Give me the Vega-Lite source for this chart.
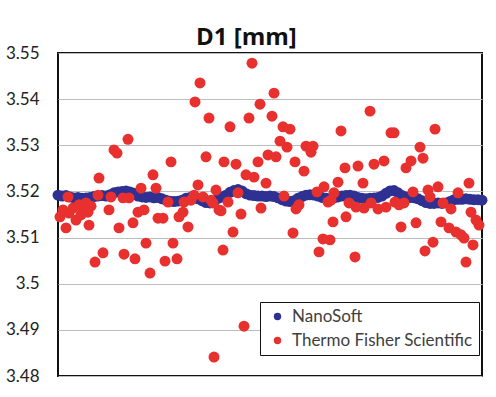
{
"$schema": "https://vega.github.io/schema/vega-lite/v6.json",
"width": 424,
"height": 323,
"padding": {"left": 5, "top": 26, "right": 13, "bottom": 16},
"background": "white",
"title": {"text": "D1 [mm]", "font": "Open Sans", "fontSize": 24, "fontWeight": "bold", "color": "#111111", "anchor": "middle", "frame": "bounds", "offset": -6},
"data": {"values": [
{"s":"NanoSoft","t":0,"v":3.5192},{"s":"NanoSoft","t":4,"v":3.519},{"s":"NanoSoft","t":8,"v":3.5191},{"s":"NanoSoft","t":12,"v":3.5188},{"s":"NanoSoft","t":16,"v":3.5186},{"s":"NanoSoft","t":20,"v":3.5187},{"s":"NanoSoft","t":24,"v":3.5185},{"s":"NanoSoft","t":28,"v":3.5186},{"s":"NanoSoft","t":32,"v":3.5187},{"s":"NanoSoft","t":36,"v":3.5189},{"s":"NanoSoft","t":40,"v":3.519},{"s":"NanoSoft","t":44,"v":3.5191},{"s":"NanoSoft","t":48,"v":3.519},{"s":"NanoSoft","t":52,"v":3.5193},{"s":"NanoSoft","t":56,"v":3.5197},{"s":"NanoSoft","t":60,"v":3.5199},{"s":"NanoSoft","t":64,"v":3.52},{"s":"NanoSoft","t":68,"v":3.5201},{"s":"NanoSoft","t":72,"v":3.5199},{"s":"NanoSoft","t":76,"v":3.5196},{"s":"NanoSoft","t":80,"v":3.519},{"s":"NanoSoft","t":84,"v":3.5188},{"s":"NanoSoft","t":88,"v":3.5187},{"s":"NanoSoft","t":92,"v":3.5188},{"s":"NanoSoft","t":96,"v":3.5186},{"s":"NanoSoft","t":100,"v":3.5187},{"s":"NanoSoft","t":104,"v":3.5184},{"s":"NanoSoft","t":108,"v":3.5181},{"s":"NanoSoft","t":112,"v":3.5179},{"s":"NanoSoft","t":116,"v":3.5178},{"s":"NanoSoft","t":120,"v":3.5179},{"s":"NanoSoft","t":124,"v":3.5181},{"s":"NanoSoft","t":128,"v":3.5185},{"s":"NanoSoft","t":132,"v":3.5187},{"s":"NanoSoft","t":136,"v":3.5186},{"s":"NanoSoft","t":140,"v":3.5184},{"s":"NanoSoft","t":144,"v":3.518},{"s":"NanoSoft","t":148,"v":3.5176},{"s":"NanoSoft","t":152,"v":3.5175},{"s":"NanoSoft","t":156,"v":3.5178},{"s":"NanoSoft","t":160,"v":3.5185},{"s":"NanoSoft","t":164,"v":3.5188},{"s":"NanoSoft","t":168,"v":3.5192},{"s":"NanoSoft","t":172,"v":3.5198},{"s":"NanoSoft","t":176,"v":3.5202},{"s":"NanoSoft","t":180,"v":3.5204},{"s":"NanoSoft","t":184,"v":3.5201},{"s":"NanoSoft","t":188,"v":3.5195},{"s":"NanoSoft","t":192,"v":3.5192},{"s":"NanoSoft","t":196,"v":3.5191},{"s":"NanoSoft","t":200,"v":3.519},{"s":"NanoSoft","t":204,"v":3.519},{"s":"NanoSoft","t":208,"v":3.5189},{"s":"NanoSoft","t":212,"v":3.519},{"s":"NanoSoft","t":216,"v":3.5189},{"s":"NanoSoft","t":220,"v":3.5186},{"s":"NanoSoft","t":224,"v":3.5182},{"s":"NanoSoft","t":228,"v":3.5179},{"s":"NanoSoft","t":232,"v":3.5178},{"s":"NanoSoft","t":236,"v":3.518},{"s":"NanoSoft","t":240,"v":3.5185},{"s":"NanoSoft","t":244,"v":3.5189},{"s":"NanoSoft","t":248,"v":3.5192},{"s":"NanoSoft","t":252,"v":3.5193},{"s":"NanoSoft","t":256,"v":3.5192},{"s":"NanoSoft","t":260,"v":3.519},{"s":"NanoSoft","t":264,"v":3.5187},{"s":"NanoSoft","t":268,"v":3.5185},{"s":"NanoSoft","t":272,"v":3.5184},{"s":"NanoSoft","t":276,"v":3.5186},{"s":"NanoSoft","t":280,"v":3.5188},{"s":"NanoSoft","t":284,"v":3.519},{"s":"NanoSoft","t":288,"v":3.5191},{"s":"NanoSoft","t":292,"v":3.5192},{"s":"NanoSoft","t":296,"v":3.519},{"s":"NanoSoft","t":300,"v":3.5187},{"s":"NanoSoft","t":304,"v":3.5185},{"s":"NanoSoft","t":308,"v":3.5184},{"s":"NanoSoft","t":312,"v":3.5185},{"s":"NanoSoft","t":316,"v":3.5186},{"s":"NanoSoft","t":320,"v":3.5187},{"s":"NanoSoft","t":324,"v":3.519},{"s":"NanoSoft","t":328,"v":3.5196},{"s":"NanoSoft","t":332,"v":3.5201},{"s":"NanoSoft","t":336,"v":3.5202},{"s":"NanoSoft","t":340,"v":3.5197},{"s":"NanoSoft","t":344,"v":3.5191},{"s":"NanoSoft","t":348,"v":3.5188},{"s":"NanoSoft","t":352,"v":3.5187},{"s":"NanoSoft","t":356,"v":3.5186},{"s":"NanoSoft","t":360,"v":3.5184},{"s":"NanoSoft","t":364,"v":3.518},{"s":"NanoSoft","t":368,"v":3.5176},{"s":"NanoSoft","t":372,"v":3.5174},{"s":"NanoSoft","t":376,"v":3.5174},{"s":"NanoSoft","t":380,"v":3.5175},{"s":"NanoSoft","t":384,"v":3.5174},{"s":"NanoSoft","t":388,"v":3.5175},{"s":"NanoSoft","t":392,"v":3.5178},{"s":"NanoSoft","t":396,"v":3.5182},{"s":"NanoSoft","t":400,"v":3.5183},{"s":"NanoSoft","t":404,"v":3.5183},{"s":"NanoSoft","t":408,"v":3.5184},{"s":"NanoSoft","t":412,"v":3.5183},{"s":"NanoSoft","t":416,"v":3.5182},{"s":"NanoSoft","t":420,"v":3.5182},{"s":"NanoSoft","t":424,"v":3.5181},
{"s":"Thermo Fisher Scientific","t":2,"v":3.5145},{"s":"Thermo Fisher Scientific","t":5,"v":3.516},{"s":"Thermo Fisher Scientific","t":8,"v":3.5121},{"s":"Thermo Fisher Scientific","t":10,"v":3.5188},{"s":"Thermo Fisher Scientific","t":11,"v":3.5153},{"s":"Thermo Fisher Scientific","t":15,"v":3.5164},{"s":"Thermo Fisher Scientific","t":18,"v":3.5138},{"s":"Thermo Fisher Scientific","t":21,"v":3.5171},{"s":"Thermo Fisher Scientific","t":23,"v":3.5149},{"s":"Thermo Fisher Scientific","t":25,"v":3.516},{"s":"Thermo Fisher Scientific","t":28,"v":3.5175},{"s":"Thermo Fisher Scientific","t":30,"v":3.5155},{"s":"Thermo Fisher Scientific","t":31,"v":3.5127},{"s":"Thermo Fisher Scientific","t":33,"v":3.5168},{"s":"Thermo Fisher Scientific","t":37,"v":3.5047},{"s":"Thermo Fisher Scientific","t":40,"v":3.5192},{"s":"Thermo Fisher Scientific","t":41,"v":3.5229},{"s":"Thermo Fisher Scientific","t":45,"v":3.5067},{"s":"Thermo Fisher Scientific","t":51,"v":3.516},{"s":"Thermo Fisher Scientific","t":53,"v":3.5188},{"s":"Thermo Fisher Scientific","t":56,"v":3.529},{"s":"Thermo Fisher Scientific","t":59,"v":3.5283},{"s":"Thermo Fisher Scientific","t":61,"v":3.5121},{"s":"Thermo Fisher Scientific","t":65,"v":3.5186},{"s":"Thermo Fisher Scientific","t":66,"v":3.5064},{"s":"Thermo Fisher Scientific","t":70,"v":3.5313},{"s":"Thermo Fisher Scientific","t":71,"v":3.5186},{"s":"Thermo Fisher Scientific","t":75,"v":3.5132},{"s":"Thermo Fisher Scientific","t":77,"v":3.5054},{"s":"Thermo Fisher Scientific","t":80,"v":3.5155},{"s":"Thermo Fisher Scientific","t":83,"v":3.5207},{"s":"Thermo Fisher Scientific","t":86,"v":3.516},{"s":"Thermo Fisher Scientific","t":88,"v":3.5088},{"s":"Thermo Fisher Scientific","t":92,"v":3.5023},{"s":"Thermo Fisher Scientific","t":95,"v":3.5236},{"s":"Thermo Fisher Scientific","t":98,"v":3.5207},{"s":"Thermo Fisher Scientific","t":100,"v":3.5142},{"s":"Thermo Fisher Scientific","t":105,"v":3.5142},{"s":"Thermo Fisher Scientific","t":107,"v":3.5049},{"s":"Thermo Fisher Scientific","t":110,"v":3.5177},{"s":"Thermo Fisher Scientific","t":113,"v":3.5264},{"s":"Thermo Fisher Scientific","t":115,"v":3.5088},{"s":"Thermo Fisher Scientific","t":119,"v":3.5054},{"s":"Thermo Fisher Scientific","t":121,"v":3.5145},{"s":"Thermo Fisher Scientific","t":125,"v":3.5155},{"s":"Thermo Fisher Scientific","t":126,"v":3.5177},{"s":"Thermo Fisher Scientific","t":130,"v":3.5123},{"s":"Thermo Fisher Scientific","t":133,"v":3.5181},{"s":"Thermo Fisher Scientific","t":136,"v":3.5192},{"s":"Thermo Fisher Scientific","t":137,"v":3.5394},{"s":"Thermo Fisher Scientific","t":140,"v":3.5214},{"s":"Thermo Fisher Scientific","t":142,"v":3.5435},{"s":"Thermo Fisher Scientific","t":145,"v":3.5188},{"s":"Thermo Fisher Scientific","t":148,"v":3.5275},{"s":"Thermo Fisher Scientific","t":151,"v":3.5359},{"s":"Thermo Fisher Scientific","t":153,"v":3.5181},{"s":"Thermo Fisher Scientific","t":155,"v":3.5175},{"s":"Thermo Fisher Scientific","t":156,"v":3.4841},{"s":"Thermo Fisher Scientific","t":158,"v":3.5203},{"s":"Thermo Fisher Scientific","t":161,"v":3.516},{"s":"Thermo Fisher Scientific","t":163,"v":3.5158},{"s":"Thermo Fisher Scientific","t":165,"v":3.5073},{"s":"Thermo Fisher Scientific","t":166,"v":3.5264},{"s":"Thermo Fisher Scientific","t":170,"v":3.5177},{"s":"Thermo Fisher Scientific","t":172,"v":3.534},{"s":"Thermo Fisher Scientific","t":175,"v":3.5112},{"s":"Thermo Fisher Scientific","t":178,"v":3.5259},{"s":"Thermo Fisher Scientific","t":180,"v":3.5197},{"s":"Thermo Fisher Scientific","t":183,"v":3.5151},{"s":"Thermo Fisher Scientific","t":186,"v":3.4908},{"s":"Thermo Fisher Scientific","t":188,"v":3.5236},{"s":"Thermo Fisher Scientific","t":191,"v":3.5359},{"s":"Thermo Fisher Scientific","t":194,"v":3.5478},{"s":"Thermo Fisher Scientific","t":196,"v":3.5231},{"s":"Thermo Fisher Scientific","t":200,"v":3.5264},{"s":"Thermo Fisher Scientific","t":202,"v":3.5389},{"s":"Thermo Fisher Scientific","t":203,"v":3.5164},{"s":"Thermo Fisher Scientific","t":208,"v":3.5218},{"s":"Thermo Fisher Scientific","t":210,"v":3.5279},{"s":"Thermo Fisher Scientific","t":214,"v":3.5363},{"s":"Thermo Fisher Scientific","t":216,"v":3.5413},{"s":"Thermo Fisher Scientific","t":218,"v":3.5275},{"s":"Thermo Fisher Scientific","t":222,"v":3.5309},{"s":"Thermo Fisher Scientific","t":225,"v":3.534},{"s":"Thermo Fisher Scientific","t":226,"v":3.519},{"s":"Thermo Fisher Scientific","t":229,"v":3.5296},{"s":"Thermo Fisher Scientific","t":232,"v":3.5335},{"s":"Thermo Fisher Scientific","t":235,"v":3.511},{"s":"Thermo Fisher Scientific","t":237,"v":3.5264},{"s":"Thermo Fisher Scientific","t":238,"v":3.5162},{"s":"Thermo Fisher Scientific","t":241,"v":3.5171},{"s":"Thermo Fisher Scientific","t":246,"v":3.5244},{"s":"Thermo Fisher Scientific","t":248,"v":3.5298},{"s":"Thermo Fisher Scientific","t":253,"v":3.5285},{"s":"Thermo Fisher Scientific","t":255,"v":3.5298},{"s":"Thermo Fisher Scientific","t":259,"v":3.5199},{"s":"Thermo Fisher Scientific","t":261,"v":3.5069},{"s":"Thermo Fisher Scientific","t":265,"v":3.5097},{"s":"Thermo Fisher Scientific","t":266,"v":3.521},{"s":"Thermo Fisher Scientific","t":270,"v":3.5177},{"s":"Thermo Fisher Scientific","t":272,"v":3.5095},{"s":"Thermo Fisher Scientific","t":273,"v":3.5181},{"s":"Thermo Fisher Scientific","t":275,"v":3.5134},{"s":"Thermo Fisher Scientific","t":276,"v":3.5197},{"s":"Thermo Fisher Scientific","t":280,"v":3.522},{"s":"Thermo Fisher Scientific","t":283,"v":3.5331},{"s":"Thermo Fisher Scientific","t":287,"v":3.5251},{"s":"Thermo Fisher Scientific","t":288,"v":3.5145},{"s":"Thermo Fisher Scientific","t":291,"v":3.5175},{"s":"Thermo Fisher Scientific","t":297,"v":3.5058},{"s":"Thermo Fisher Scientific","t":298,"v":3.5166},{"s":"Thermo Fisher Scientific","t":300,"v":3.5255},{"s":"Thermo Fisher Scientific","t":305,"v":3.5218},{"s":"Thermo Fisher Scientific","t":306,"v":3.5164},{"s":"Thermo Fisher Scientific","t":312,"v":3.5374},{"s":"Thermo Fisher Scientific","t":313,"v":3.5175},{"s":"Thermo Fisher Scientific","t":316,"v":3.5259},{"s":"Thermo Fisher Scientific","t":320,"v":3.5162},{"s":"Thermo Fisher Scientific","t":326,"v":3.5266},{"s":"Thermo Fisher Scientific","t":328,"v":3.5166},{"s":"Thermo Fisher Scientific","t":333,"v":3.5327},{"s":"Thermo Fisher Scientific","t":336,"v":3.5327},{"s":"Thermo Fisher Scientific","t":337,"v":3.5177},{"s":"Thermo Fisher Scientific","t":341,"v":3.5171},{"s":"Thermo Fisher Scientific","t":343,"v":3.5123},{"s":"Thermo Fisher Scientific","t":346,"v":3.5175},{"s":"Thermo Fisher Scientific","t":348,"v":3.5251},{"s":"Thermo Fisher Scientific","t":353,"v":3.5266},{"s":"Thermo Fisher Scientific","t":355,"v":3.5199},{"s":"Thermo Fisher Scientific","t":358,"v":3.5132},{"s":"Thermo Fisher Scientific","t":362,"v":3.5296},{"s":"Thermo Fisher Scientific","t":365,"v":3.5272},{"s":"Thermo Fisher Scientific","t":367,"v":3.5071},{"s":"Thermo Fisher Scientific","t":370,"v":3.5203},{"s":"Thermo Fisher Scientific","t":372,"v":3.5188},{"s":"Thermo Fisher Scientific","t":375,"v":3.509},{"s":"Thermo Fisher Scientific","t":377,"v":3.5335},{"s":"Thermo Fisher Scientific","t":380,"v":3.521},{"s":"Thermo Fisher Scientific","t":383,"v":3.5134},{"s":"Thermo Fisher Scientific","t":385,"v":3.5175},{"s":"Thermo Fisher Scientific","t":391,"v":3.5121},{"s":"Thermo Fisher Scientific","t":393,"v":3.5162},{"s":"Thermo Fisher Scientific","t":398,"v":3.5112},{"s":"Thermo Fisher Scientific","t":400,"v":3.5197},{"s":"Thermo Fisher Scientific","t":403,"v":3.5106},{"s":"Thermo Fisher Scientific","t":406,"v":3.5099},{"s":"Thermo Fisher Scientific","t":408,"v":3.5047},{"s":"Thermo Fisher Scientific","t":411,"v":3.5218},{"s":"Thermo Fisher Scientific","t":413,"v":3.5155},{"s":"Thermo Fisher Scientific","t":415,"v":3.5084},{"s":"Thermo Fisher Scientific","t":418,"v":3.5138},{"s":"Thermo Fisher Scientific","t":421,"v":3.5127}
]},
"mark": {"type": "circle", "size": 120, "opacity": 1},
"encoding": {
  "x": {"field": "t", "type": "quantitative", "scale": {"domain": [0, 424], "nice": false, "zero": false}, "axis": null},
  "y": {"field": "v", "type": "quantitative", "scale": {"domain": [3.48, 3.55], "nice": false, "zero": false},
        "axis": {"values": [3.48, 3.49, 3.5, 3.51, 3.52, 3.53, 3.54, 3.55], "format": ".2~f", "title": null, "ticks": false, "domain": false, "grid": true, "gridColor": "#bdbdbd", "gridWidth": 1, "labelFont": "Lato", "labelFontSize": 17, "labelColor": "#222222", "labelPadding": 19}},
  "color": {"field": "s", "type": "nominal",
        "scale": {"domain": ["NanoSoft", "Thermo Fisher Scientific"], "range": ["#2e3192", "#e8312f"]},
        "legend": {"title": null, "orient": "none", "legendX": 202, "legendY": 249, "direction": "vertical", "symbolType": "circle", "symbolSize": 55, "symbolStrokeWidth": 0, "symbolOpacity": 1, "symbolOffset": 3, "labelFont": "Lato", "labelFontSize": 17, "labelColor": "#404040", "labelOffset": 6, "labelLimit": 300, "strokeColor": "#111111", "fillColor": "white", "padding": 6, "rowPadding": 6}}
},
"config": {"view": {"stroke": "#111111", "strokeWidth": 2}}
}
